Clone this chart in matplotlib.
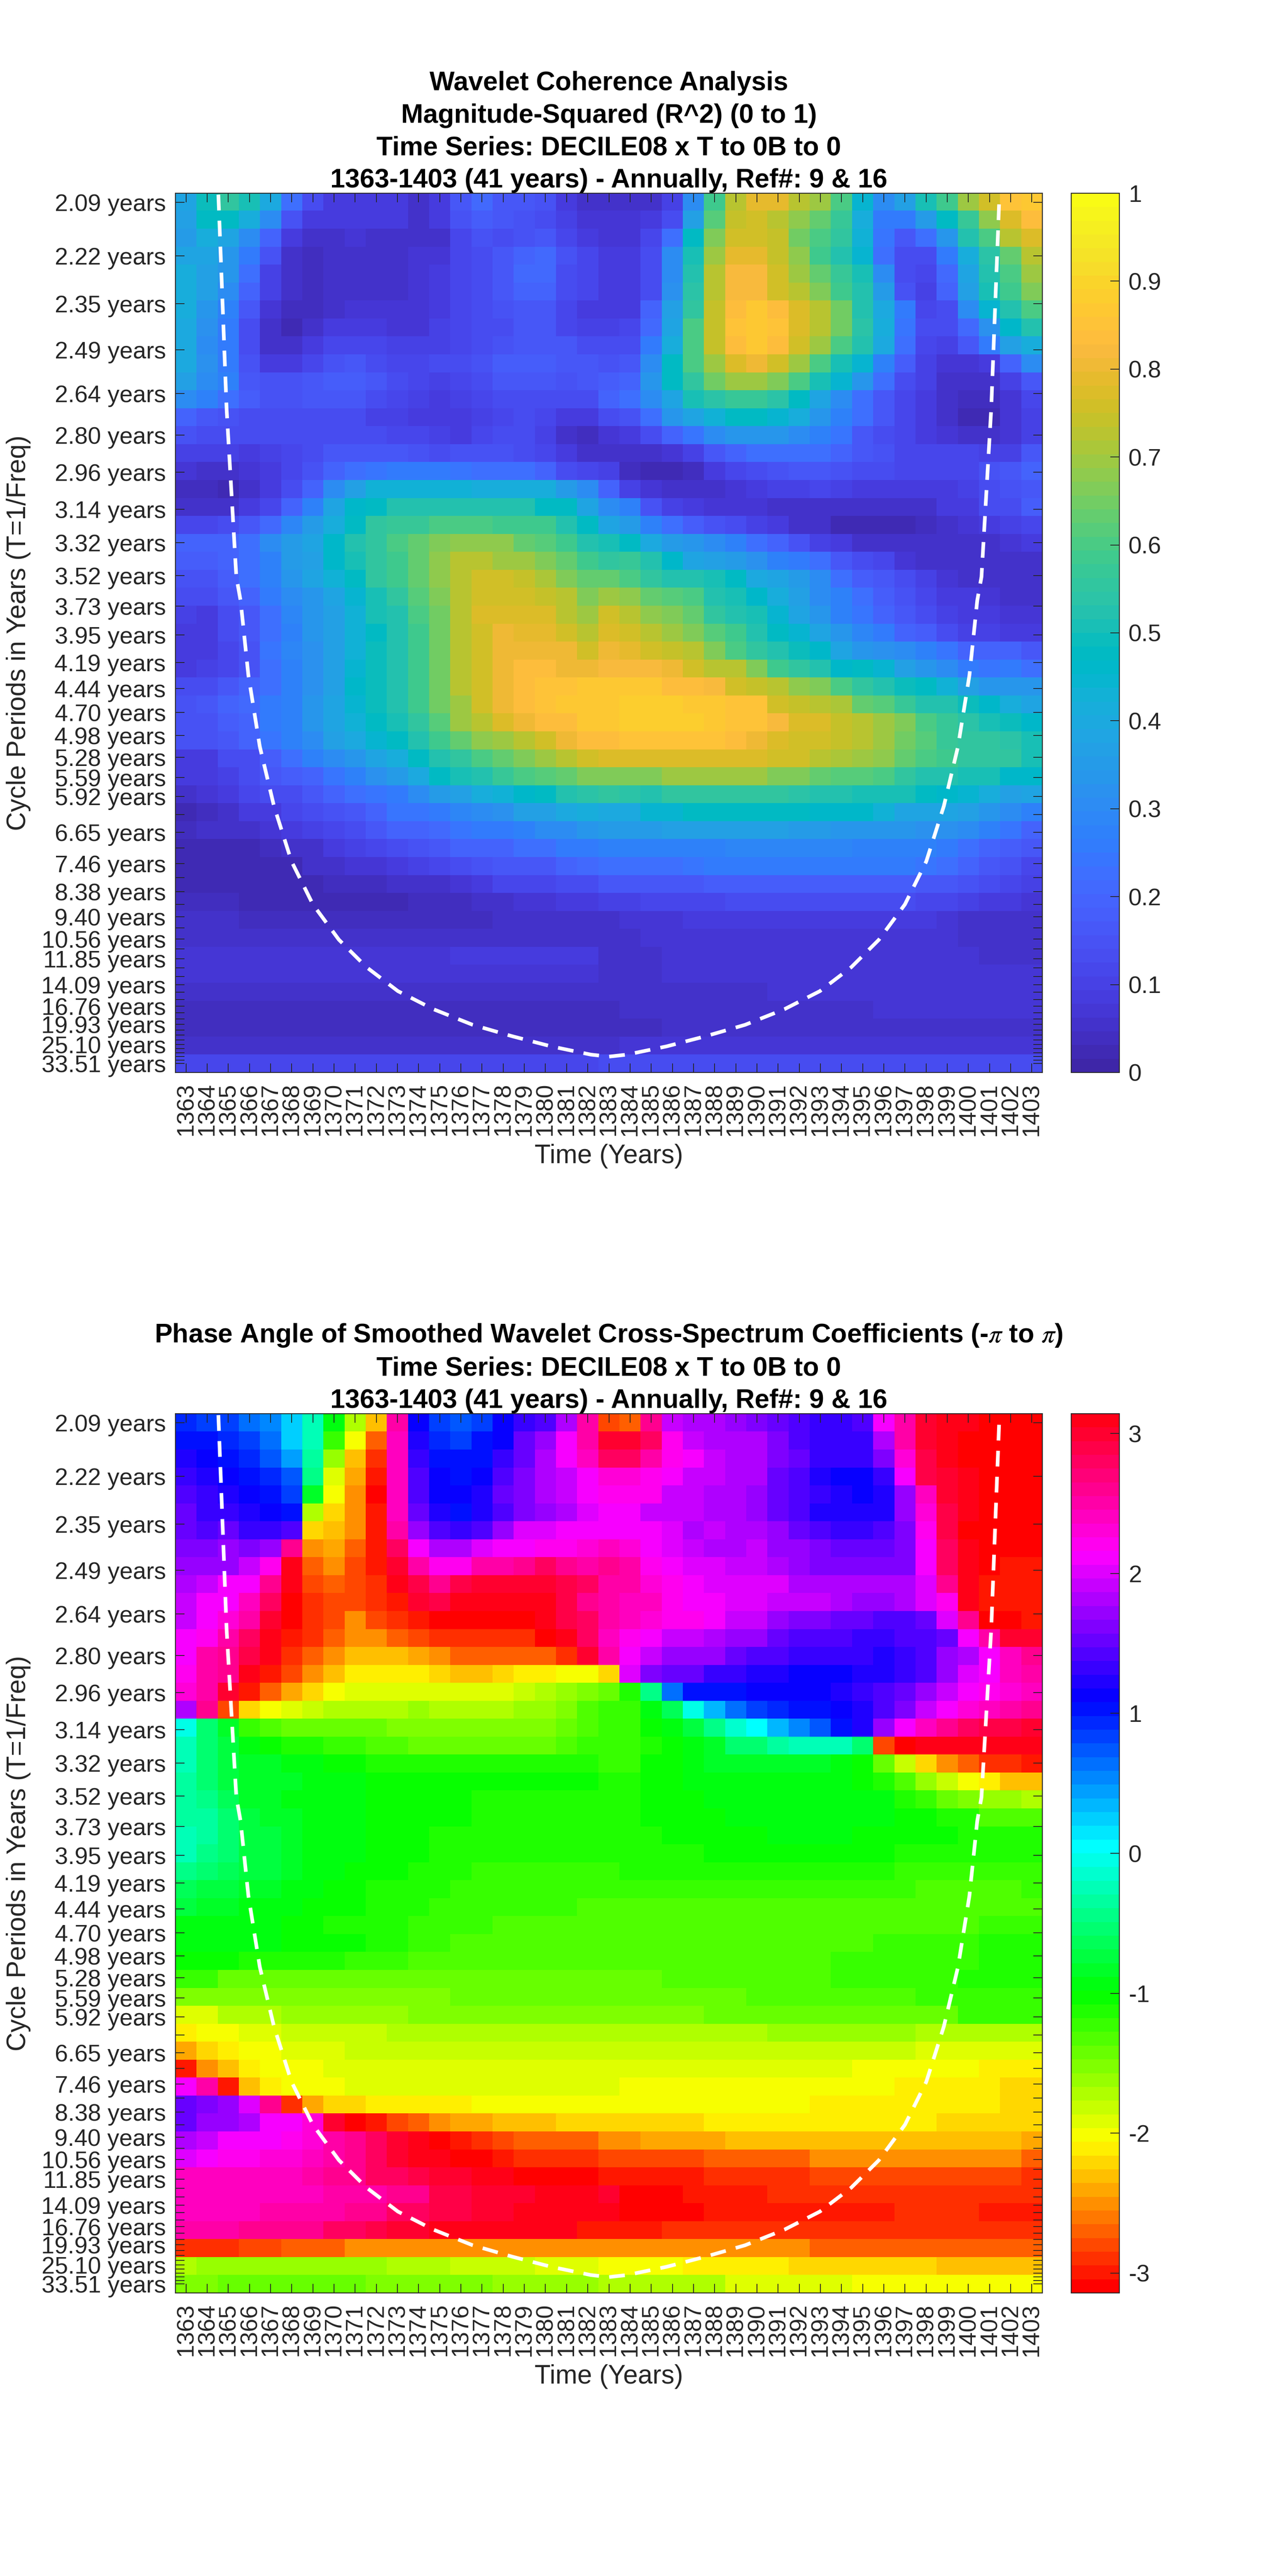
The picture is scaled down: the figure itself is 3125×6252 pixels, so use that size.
import colorsys
import numpy as np
import matplotlib
matplotlib.use("Agg")
import matplotlib.pyplot as plt
from matplotlib.colors import ListedColormap

plt.rcParams['font.family'] = ['Liberation Sans', 'DejaVu Sans']
plt.rcParams['mathtext.fontset'] = 'stix'

YEARS = list(range(1363, 1404))
PERIODS = [2.09, 2.22, 2.35, 2.49, 2.64, 2.80, 2.96, 3.14, 3.32, 3.52, 3.73, 3.95, 4.19, 4.44, 4.70, 4.98,
           5.28, 5.59, 5.92, 6.27, 6.65, 7.04, 7.46, 7.90, 8.38, 8.87, 9.40, 9.96, 10.56, 11.18, 11.85,
           12.55, 13.30, 14.09, 14.92, 15.81, 16.76, 17.76, 18.81, 19.93, 21.12, 22.37, 23.70, 25.10,
           26.60, 28.18, 29.85, 31.63, 33.51]
LABELLED = [2.09, 2.22, 2.35, 2.49, 2.64, 2.80, 2.96, 3.14, 3.32, 3.52, 3.73, 3.95, 4.19, 4.44, 4.70, 4.98,
            5.28, 5.59, 5.92, 6.65, 7.46, 8.38, 9.40, 10.56, 11.85, 14.09, 16.76, 19.93, 25.10, 33.51]

COI_YEARS = [1364.53, 1364.92, 1365.38, 1365.58, 1365.95, 1366.49, 1367.16, 1367.99, 1369.0, 1370.23,
             1371.54, 1373.02, 1374.7, 1376.56, 1378.43, 1380.28, 1382.15, 1383.0, 1383.85, 1385.72,
             1387.57, 1389.44, 1391.3, 1392.98, 1394.46, 1395.77, 1397.0, 1398.01, 1398.84, 1399.51,
             1400.05, 1400.42, 1400.62, 1401.08, 1401.47]
COI_PERIODS = [2.073, 2.698, 3.53, 3.69, 4.31, 5.13, 6.10, 7.40, 8.87, 10.6, 12.5, 14.8, 17.2, 20.0, 22.7,
               25.8, 29.0, 29.9, 29.0, 25.8, 22.7, 20.0, 17.2, 14.8, 12.5, 10.6, 8.87, 7.40, 6.10, 5.13,
               4.31, 3.69, 3.53, 2.698, 2.073]

# Magnitude-squared coherence, in hundredths, top row to bottom row
R2_ROWS = [
 [38,49,55,51,40,22,13,9,9,9,8,5,9,17,21,17,16,15,8,6, 6,5,5,10,30,59,73,79,79,72,69,60,45,30,36,50,59,69,75,85,87],
 [36,47,48,42,30,15,9,8,8,8,8,5,8,15,18,16,15,14,10,7, 7,7,9,14,37,62,74,75,73,68,64,57,42,26,26,35,47,57,68,78,84],
 [35,42,39,30,19,8,5,5,7,5,5,5,6,12,15,14,15,17,11,9, 7,7,11,22,47,66,75,76,74,65,60,55,43,24,16,23,33,52,60,72,77],
 [39,38,34,26,15,6,4,6,5,5,5,7,7,11,13,17,20,21,15,11, 8,9,14,30,50,69,79,79,74,68,59,53,45,23,14,14,25,42,54,64,72],
 [42,37,33,22,10,5,4,5,6,5,5,7,8,11,13,17,21,21,14,12, 9,9,14,30,52,72,82,82,75,70,63,57,50,31,13,11,21,38,52,60,69],
 [42,36,31,20,10,5,4,5,6,5,5,7,8,12,13,17,20,20,14,11, 9,9,14,32,54,72,82,82,76,72,66,58,52,35,15,10,20,36,50,58,66],
 [41,33,28,16,7,4,4,6,7,7,7,7,9,12,13,15,17,17,12,9, 8,9,20,36,56,74,84,86,84,77,72,65,53,40,25,11,13,30,44,52,60],
 [40,32,26,14,6,3,5,8,8,9,7,7,10,12,13,14,16,16,11,10, 10,11,21,39,60,74,85,87,85,78,72,65,54,42,24,14,14,21,32,46,52],
 [40,31,25,14,6,5,8,11,11,11,10,10,10,11,14,15,16,17,16,13, 14,13,26,42,60,74,84,86,84,75,70,60,53,40,22,12,10,16,25,36,42],
 [40,32,26,15,9,8,11,15,16,14,12,12,13,14,15,18,18,18,17,17, 15,17,30,47,60,70,78,80,75,70,60,50,45,28,18,10,7,7,9,20,30],
 [37,30,27,17,15,15,16,18,18,16,14,12,10,11,13,16,16,16,15,17, 18,20,33,47,55,65,70,70,67,60,50,45,33,22,13,10,5,5,5,10,16],
 [30,27,22,18,15,15,16,17,16,13,12,10,9,10,12,14,14,14,13,14, 19,22,30,39,50,54,57,57,54,47,38,30,22,16,12,9,6,4,4,7,12],
 [20,17,15,14,13,14,14,14,13,10,10,9,8,9,10,12,13,12,8,8, 13,15,23,33,38,43,48,48,45,42,34,28,22,17,12,8,6,3,3,7,10],
 [15,14,14,14,13,14,14,14,14,13,12,11,10,9,12,13,13,10,5,4, 7,8,14,20,24,30,34,34,33,30,27,24,17,14,12,9,7,5,5,7,10],
 [10,10,10,9,10,12,13,16,16,16,16,15,14,15,15,15,14,12,8,5, 5,5,5,7,10,16,20,22,22,22,22,20,17,15,12,12,12,12,10,10,16],
 [7,5,5,7,8,12,15,20,23,24,25,25,25,24,22,22,22,20,14,11, 10,4,3,3,4,8,12,14,15,17,17,15,14,13,12,11,11,12,15,17,19],
 [4,4,3,5,8,13,20,30,37,43,43,43,43,43,42,42,41,41,35,30, 20,10,7,5,5,5,7,9,10,10,11,10,8,8,8,8,8,10,13,15,17],
 [5,5,6,9,11,19,28,38,46,48,53,53,53,53,53,52,52,47,47,38, 31,27,15,10,9,7,7,7,6,6,5,5,5,5,5,5,8,8,13,14,18],
 [12,12,13,17,21,29,35,42,47,55,57,57,60,60,60,59,59,58,53,47, 38,35,28,22,18,15,13,10,9,6,5,3,3,3,3,4,5,7,8,10,12],
 [20,20,20,23,30,35,38,46,52,56,60,64,66,68,68,68,64,62,58,53, 50,47,40,35,33,30,27,22,19,15,10,9,5,5,5,5,5,5,6,7,8],
 [18,18,20,23,28,35,37,46,50,55,58,64,68,72,72,70,69,67,63,58, 55,57,52,46,38,37,35,32,28,25,22,17,14,11,7,6,5,5,5,5,6],
 [15,15,18,22,27,33,39,43,48,55,58,64,68,72,75,75,74,71,67,64, 64,60,56,52,52,50,47,40,38,35,30,22,18,16,13,10,7,6,6,5,5],
 [14,14,16,20,25,30,33,39,44,50,55,62,67,72,76,76,75,74,72,66, 70,68,63,61,60,53,51,46,42,36,31,27,23,18,15,12,9,8,7,6,6],
 [10,8,14,17,23,29,33,37,43,50,53,60,65,72,78,78,77,77,73,70, 75,72,68,66,63,56,53,50,45,39,34,27,24,19,16,13,10,8,8,7,7],
 [8,9,13,17,23,28,33,37,43,47,53,58,65,72,76,80,79,79,76,72, 78,76,73,70,66,62,58,53,47,44,39,33,29,25,20,18,13,10,10,9,9],
 [8,9,12,15,24,29,32,37,43,49,53,58,65,72,76,80,80,81,80,76, 80,79,76,74,72,67,60,56,52,49,46,38,34,32,30,27,24,20,19,19,17],
 [9,10,12,15,22,28,32,36,44,49,53,58,65,72,76,80,83,83,81,80, 82,82,82,80,76,72,72,67,58,55,53,46,47,44,36,33,30,26,24,25,22],
 [13,14,17,19,22,27,32,36,46,49,53,58,65,72,76,80,83,85,85,87, 86,86,86,84,84,82,76,74,72,68,66,60,56,52,49,47,43,37,33,33,33],
 [15,16,19,21,25,27,33,38,44,49,53,58,65,70,76,80,83,85,86,87, 87,88,88,88,86,86,85,85,76,74,73,71,64,61,57,53,52,49,46,41,38],
 [15,15,18,20,25,28,34,38,43,47,50,55,62,70,73,77,81,83,84,87, 87,88,88,88,88,86,85,85,82,78,77,74,72,70,66,60,57,54,50,49,46],
 [15,15,17,20,24,28,31,37,40,45,47,52,58,64,68,70,73,75,80,83, 84,85,85,85,85,85,83,80,78,76,75,74,72,70,65,62,57,55,55,54,50],
 [9,9,13,14,18,22,27,30,34,38,42,47,52,56,60,63,67,70,73,76, 78,78,78,78,78,78,78,77,76,75,72,71,70,68,63,60,58,56,55,55,50],
 [8,8,10,13,16,18,20,24,27,32,35,40,47,50,53,57,60,62,64,66, 66,67,67,70,70,70,70,69,67,66,64,62,62,60,55,53,52,50,50,46,46],
 [5,7,8,11,13,13,17,20,22,24,26,31,35,37,41,43,46,47,52,54, 55,54,53,56,56,56,56,56,56,54,53,53,50,50,50,48,46,44,41,37,38],
 [3,4,6,8,9,12,14,15,17,20,24,24,26,29,30,32,36,37,40,41, 40,40,45,45,47,47,47,47,47,47,46,46,46,43,38,38,38,36,33,31,28],
 [4,5,5,6,7,9,10,12,14,16,19,20,21,24,25,26,28,30,31,33, 35,35,35,36,37,36,36,36,36,35,35,33,33,33,33,32,32,30,27,24,20],
 [3,3,3,3,4,5,6,8,10,12,14,15,17,19,20,20,22,22,25,26, 27,27,28,28,28,28,29,29,29,29,29,29,28,28,28,27,25,22,20,18,16],
 [3,3,3,3,3,3,5,6,7,7,9,10,12,14,15,16,17,17,19,21, 22,22,22,23,24,25,25,25,25,25,25,25,25,25,25,24,22,19,17,15,12],
 [3,3,3,3,3,3,3,4,4,4,5,5,6,7,8,11,12,12,13,14, 17,16,16,16,17,18,18,18,18,18,18,18,18,18,18,17,16,15,13,11,10],
 [4,4,4,3,3,3,3,3,3,3,3,4,4,4,5,6,7,7,8,9, 10,10,11,12,12,12,13,14,14,14,14,14,14,13,13,12,11,10,9,8,7],
 [5,5,5,4,4,4,4,4,4,4,4,4,4,4,4,5,5,5,5,6, 6,7,7,7,8,8,8,8,8,8,8,8,8,8,8,8,7,6,6,6,5],
 [6,6,6,6,6,6,6,6,6,5,5,5,5,5,5,5,5,5,5,5, 6,6,7,7,7,7,7,7,7,7,7,7,7,7,7,7,7,6,6,5,5],
 [7]*13+[8]*7+[6,6,6]+[7]*15+[6,6,5],
 [7]*20+[6,6,6]+[7]*18,
 [6]*20+[5,5,6,6,6,6,6,6]+[7]*13,
 [4]*20+[4,5,5,5,5,5,5,6,6,6,6,6,6]+[7]*8,
 [4]*20+[4,4,4]+[5]*18,
 [5]*4+[6]*17+[7]*20,
 [11]*10+[12]*10+[14]*21,
]

# Phase angle, in tenths of a radian, top row to bottom row
PHASE_ROWS = [
 [9,8,8,6,5,2,-3,-10,-18,-24,25,11,8,7,8,11,13,14,18,25, -28,-27,26,19,18,18,17,16,15,14,13,13,14,21,25,29,30,30,-31,-31,-31],
 [10,10,9,8,6,2,-3,-13,-21,-27,24,12,9,8,10,11,15,17,21,25, 29,29,27,22,19,18,18,18,16,14,13,13,13,18,25,29,30,-31,-31,-31,-31],
 [12,11,10,9,7,4,-4,-17,-24,-29,24,13,10,10,10,13,15,18,21,24, 27,27,25,22,21,19,18,18,16,15,13,13,13,16,23,28,30,-31,-31,-31,-31],
 [13,12,11,10,9,7,-5,-20,-25,-30,24,14,11,10,11,14,16,18,19,21, 23,23,22,21,19,19,18,18,15,14,12,11,11,13,21,28,29,30,-31,-31,-31],
 [14,13,12,11,10,8,-9,-21,-26,-31,24,14,11,11,12,15,16,18,19,21, 22,22,22,19,19,18,18,17,15,14,13,12,11,12,17,24,29,30,-31,-31,-31],
 [15,13,13,12,11,10,-18,-23,-26,-30,24,15,12,10,12,14,16,17,18,20, 21,21,19,19,19,18,18,17,15,14,12,12,12,12,17,23,28,30,-31,-31,-31],
 [15,14,15,13,13,14,-23,-24,-26,-30,25,17,14,13,14,17,20,20,21,21, 21,21,21,20,18,19,18,18,17,15,14,13,13,14,16,22,28,-31,-31,-31,-31],
 [16,16,17,16,17,26,-26,-25,-27,-30,27,21,18,18,20,21,21,22,22,23, 24,23,21,20,19,18,18,19,17,17,16,15,15,15,16,21,27,30,-31,-31,-31],
 [17,17,17,19,22,30,-27,-26,-28,-30,29,25,22,22,25,25,26,27,26,25, 26,25,22,21,20,20,19,19,18,17,16,16,16,16,16,21,27,30,-31,-30,-30],
 [18,19,21,21,26,31,-28,-27,-28,-29,31,28,26,28,29,29,29,29,28,27, 25,25,23,22,21,20,20,20,20,18,18,18,18,18,18,20,26,30,-30,-30,-30],
 [19,21,21,24,27,-31,-29,-28,-28,-29,-30,29,28,30,30,30,30,30,28,26, 25,24,24,22,21,21,20,20,19,19,19,18,17,17,18,20,22,30,-30,-30,-30],
 [19,21,23,25,29,-31,-29,-28,-26,-28,-29,-30,-31,-31,-31,-31,-31,30,28,27, 25,24,23,22,22,21,19,19,17,16,16,15,15,14,14,15,20,26,-31,-31,-30],
 [21,22,25,27,30,-30,-29,-27,-26,-26,-27,-28,-29,-29,-29,-29,-29,-31,30,27, 24,22,21,19,19,18,17,17,15,14,14,14,13,13,14,14,15,21,25,29,29],
 [21,25,26,28,31,-29,-27,-26,-24,-24,-24,-25,-26,-27,-27,-27,-27,-27,-29,29, 25,21,19,17,17,17,15,14,14,13,13,13,13,12,13,14,17,18,21,24,26],
 [22,25,26,30,-30,-28,-26,-24,-22,-22,-22,-22,-23,-24,-24,-23,-22,-22,-21,-21, -23,20,16,15,15,13,13,12,12,11,11,11,12,12,13,14,17,20,21,24,25],
 [23,25,29,-30,-27,-25,-23,-21,-20,-20,-20,-20,-20,-20,-20,-20,-19,-18,-17,-16, -15,-12,-5,6,10,10,10,11,11,11,11,12,13,14,15,17,19,21,22,23,24],
 [18,26,-28,-23,-21,-20,-19,-18,-18,-18,-18,-17,-18,-18,-18,-18,-17,-17,-16,-14, -13,-13,-10,-7,-1,3,6,8,9,10,10,11,12,14,16,19,21,23,24,25,26],
 [-1,-6,-9,-13,-14,-15,-15,-15,-15,-15,-16,-16,-16,-16,-16,-16,-16,-16,-15,-14, -13,-13,-11,-10,-8,-5,-2,0,3,5,7,10,12,17,21,24,26,27,28,28,29],
 [-3,-6,-8,-10,-11,-12,-12,-13,-13,-14,-14,-15,-15,-15,-15,-15,-15,-15,-14,-13, -13,-13,-12,-11,-10,-9,-6,-6,-4,-3,-3,-3,-6,-28,-31,30,30,30,30,30,30],
 [-3,-6,-8,-9,-9,-10,-10,-11,-11,-12,-12,-12,-12,-12,-12,-12,-12,-12,-12,-12, -13,-13,-11,-11,-10,-9,-9,-9,-9,-9,-9,-10,-11,-15,-19,-23,-26,-27,-29,-29,-30],
 [-4,-6,-8,-9,-9,-9,-10,-10,-10,-11,-11,-11,-11,-11,-11,-11,-11,-11,-11,-11, -12,-12,-11,-11,-10,-10,-10,-10,-10,-10,-10,-10,-11,-12,-14,-17,-19,-21,-22,-24,-24],
 [-4,-5,-7,-9,-9,-10,-10,-10,-10,-11,-11,-11,-11,-11,-12,-12,-12,-12,-12,-12, -12,-12,-11,-11,-11,-10,-10,-10,-10,-10,-10,-10,-10,-10,-12,-13,-15,-16,-17,-17,-18],
 [-4,-4,-6,-8,-9,-9,-10,-10,-10,-11,-11,-11,-11,-11,-12,-12,-12,-12,-12,-12, -12,-12,-11,-11,-11,-11,-10,-10,-10,-10,-10,-10,-10,-10,-11,-11,-12,-12,-14,-14,-14],
 [-3,-4,-6,-8,-8,-9,-10,-10,-10,-11,-11,-11,-12,-12,-12,-12,-12,-12,-12,-12, -12,-12,-12,-11,-11,-11,-11,-11,-10,-10,-10,-10,-11,-11,-11,-11,-11,-12,-12,-12,-12],
 [-3,-5,-6,-8,-8,-9,-10,-10,-10,-11,-11,-11,-12,-12,-12,-12,-12,-12,-12,-12]+[-12]*5+[-11]*9+[-12]*7,
 [-5,-6,-7,-8,-8,-9,-10,-10,-11,-11,-11,-12,-12,-12,-13,-13,-13,-13,-13,-13,-13]+[-12]*13+[-13]*7,
 [-7,-8,-8,-9,-9,-10,-10,-11,-11,-12,-12,-12,-12,-13,-13,-13,-13,-13,-13,-13]+[-13]*15+[-14]*5+[-13],
 [-8,-9,-9,-10,-10,-10,-11,-11,-11,-12,-12,-12,-13,-13,-13,-13,-13,-13,-13,-14]+[-14]*21,
 [-10,-10,-10,-10,-10,-11,-11,-12,-12,-12,-12,-13,-13,-13,-13,-14,-14,-14,-14,-14]+[-14]*18+[-13]*3,
 [-10,-10,-10,-10,-10,-11,-11,-11,-11,-12,-12,-13,-13,-14,-14,-14,-14,-14,-14,-14]+[-14]*13+[-13]*5+[-12]*3,
 [-11,-11,-11,-12,-12,-12,-12,-12,-13,-13,-13,-14,-14,-14,-14,-14,-14,-14,-14,-14]+[-14]*11+[-13]*7+[-12]*3,
 [-13,-13]+[-15]*18+[-15]*3+[-14]*8+[-13]*6+[-12]*4,
 [-16]*13+[-15]*7+[-15]*7+[-14]*8+[-13]*6,
 [-20]*2+[-18]*3+[-17]*6+[-16]*9+[-16]*5+[-15]*12+[-13]*4,
 [-22,-21,-21,-20,-20]+[-19]*5+[-18]*10+[-18]*8+[-17]*7+[-18]*6,
 [-25,-23,-22,-21,-21,-20,-20,-20]+[-19]*12+[-19]*15+[-20]*6,
 [-30,-26,-24,-22,-21,-21,-21]+[-20]*13+[-20]*12+[-21]*6+[-22]*3,
 [21,25,-30,-24,-22,-21,-21,-21]+[-20]*12+[-20]+[-21]*13+[-22]*5+[-23]*2,
 [15,16,17,20,26,-29,-25,-23,-23,-22,-22,-22,-22,-22]+[-21]*6+[-21]*10+[-22]*9+[-23]*2,
 [15,17,17,18,21,21,23,29,-31,-30,-28,-27,-26,-25,-25,-24,-24,-24,-23,-23]+[-23]*5+[-22]*11+[-23]*5,
 [18,19,21,21,21,22,23,25,26,27,29,30,-31,-30,-29,-28,-27,-27,-27,-27,-26,-26]+[-25]*4+[-24]*14+[-25],
 [20,21,22,22,23,23,24,25,26,27,29,30,30,-31,-31,-30,-29,-29,-29,-29,-28,-28]+[-28]*3+[-27]*5+[-26]*10+[-27],
 [24]*6+[25,26,26,27,27,28,29,29,30,30,-31,-31,-31,-31]+[-30]*5+[-29]*5+[-28]*10+[-29],
 [24]*7+[25]*3+[26,26,28,28,29,29,29,30,30,30,29,-31,-31,-31]+[-30]*4+[-29]*13,
 [24]*4+[25]*4+[26,26,27,27,28,28,29,29,30,30,30,30,30]+[-31]*4+[-30]*9+[-29]*4+[-30]*3,
 [25]*3+[26]*4+[27,27,28,29,29,30,30,30,31,31,31,31,-30]+[-30]*3+[-29]*18,
 [-29,-29,-29,-28,-28]+[-27]*3+[-26]*12+[-26]*10+[-27]*11,
 [-18]+[-17]*9+[-18]*3+[-19]*4+[-20]*3+[-21]*4+[-22]*5+[-23]*7+[-24]*5,
 [-16,-16]+[-15]*7+[-16]*6+[-17]*5+[-18]*6+[-20]*6+[-21]*9,
]

PARULA = [
 (.2422,.1504,.6603),(.2504,.1650,.7076),(.2578,.1818,.7511),(.2647,.1978,.7952),(.2706,.2147,.8364),
 (.2751,.2342,.8710),(.2783,.2559,.8991),(.2803,.2782,.9221),(.2813,.3006,.9414),(.2810,.3228,.9579),
 (.2795,.3447,.9717),(.2760,.3667,.9829),(.2699,.3892,.9906),(.2602,.4123,.9952),(.2440,.4358,.9988),
 (.2206,.4603,.9973),(.1963,.4847,.9892),(.1834,.5074,.9798),(.1786,.5289,.9682),(.1764,.5499,.9520),
 (.1687,.5703,.9359),(.1540,.5902,.9218),(.1460,.6091,.9079),(.1380,.6276,.8973),(.1248,.6459,.8883),
 (.1113,.6635,.8763),(.0952,.6798,.8598),(.0689,.6948,.8394),(.0297,.7082,.8163),(.0036,.7203,.7917),
 (.0067,.7312,.7660),(.0433,.7411,.7394),(.0964,.7500,.7120),(.1408,.7584,.6842),(.1717,.7670,.6554),
 (.1938,.7758,.6251),(.2161,.7843,.5923),(.2470,.7918,.5567),(.2906,.7973,.5188),(.3406,.8008,.4789),
 (.3909,.8029,.4354),(.4456,.8024,.3909),(.5044,.7993,.3480),(.5616,.7942,.3045),(.6174,.7876,.2612),
 (.6720,.7793,.2227),(.7242,.7698,.1910),(.7738,.7598,.1646),(.8203,.7498,.1535),(.8634,.7406,.1596),
 (.9035,.7330,.1774),(.9393,.7288,.2100),(.9728,.7298,.2394),(.9956,.7434,.2371),(.9970,.7659,.2199),
 (.9952,.7861,.1967),(.9892,.8086,.1817),(.9786,.8310,.1655),(.9676,.8639,.1643),(.9610,.8890,.1537),
 (.9597,.9135,.1423),(.9628,.9373,.1265),(.9691,.9606,.1064),(.9769,.9839,.0805),
]
HSV64 = [colorsys.hsv_to_rgb(i / 64, 1, 1) for i in range(64)]

INK = '#262626'
W, H = 3125, 6252
DPI = 400
AX_L, AX_R = 426, 2531
CB_L, CB_R = 2601, 2718
AX_H = 2134

TITLE_1 = ("Wavelet Coherence Analysis\nMagnitude-Squared (R^2) (0 to 1)\n"
           "Time Series: DECILE08 x T to 0B to 0\n1363-1403 (41 years) - Annually, Ref#: 9 & 16")
TITLE_2 = ("Phase Angle of Smoothed Wavelet Cross-Spectrum Coefficients (-$\\pi$ to $\\pi$)\n"
           "Time Series: DECILE08 x T to 0B to 0\n1363-1403 (41 years) - Annually, Ref#: 9 & 16")

fig = plt.figure(figsize=(W / DPI, H / DPI), dpi=DPI, facecolor='white')


def panel(bottom_px, data, vmin, vmax, colors, cticks, cticklabels, title):
    ax = fig.add_axes([AX_L / W, 1 - bottom_px / H, (AX_R - AX_L) / W, AX_H / H])
    cax = fig.add_axes([CB_L / W, 1 - bottom_px / H, (CB_R - CB_L) / W, AX_H / H])
    f_top, f_bot = 1 / PERIODS[0], 1 / PERIODS[-1]
    half = (f_top - f_bot) / (len(PERIODS) - 1) / 2
    im = ax.imshow(data, cmap=ListedColormap(colors), vmin=vmin, vmax=vmax, aspect='auto',
                   interpolation='nearest', origin='upper',
                   extent=[YEARS[0] - .5, YEARS[-1] + .5, f_bot - half, f_top + half])
    ax.plot(COI_YEARS, 1 / np.array(COI_PERIODS), color='white', lw=1.6,
            linestyle=(0, (4.3, 2.8)), dash_capstyle='butt')
    ax.set_xlim(YEARS[0] - .5, YEARS[-1] + .5)
    ax.set_ylim(f_bot - half, f_top + half)

    ax.set_xticks(YEARS)
    ax.set_xticklabels([str(y) for y in YEARS], rotation=90, fontsize=10.4, color=INK)
    ax.set_yticks([1 / p for p in PERIODS])
    ax.set_yticklabels([f"{p:.2f} years" if p in LABELLED else "" for p in PERIODS],
                       fontsize=10.4, color=INK)
    ax.tick_params(axis='x', which='major', direction='in', length=4, width=.36, color=INK,
                   top=True, bottom=True, pad=4.5)
    ax.tick_params(axis='y', which='major', direction='in', length=4, width=.36, color=INK,
                   left=True, right=True, pad=4.2)
    for s in ax.spines.values():
        s.set_linewidth(.4)
        s.set_color(INK)

    ax.set_xlabel("Time (Years)", fontsize=11.5, color=INK, va='center')
    ax.xaxis.set_label_coords(.5, -203 / AX_H)
    ax.set_ylabel("Cycle Periods in Years (T=1/Freq)", fontsize=11.5, color=INK, va='center')
    ax.yaxis.set_label_coords((45 - AX_L) / (AX_R - AX_L), .5)
    ax.set_title(title, fontsize=11.6, fontweight='bold', color='black', pad=2.5, linespacing=1.4)

    cb = fig.colorbar(im, cax=cax)
    cb.set_ticks(cticks)
    cb.set_ticklabels(cticklabels)
    cax.tick_params(direction='in', length=4, width=.36, color=INK, labelcolor=INK,
                    labelsize=10.4, pad=4)
    cb.outline.set_linewidth(.4)
    cb.outline.set_edgecolor(INK)
    return ax


R2 = np.array(R2_ROWS, dtype=float) * 0.01
# half a colour step, so a value read from a cell's hue lands on that hue's own level
PHASE = np.array(PHASE_ROWS, dtype=float) * 0.1 + np.pi / 64

panel(2603, R2, 0, 1, PARULA,
      [0, .1, .2, .3, .4, .5, .6, .7, .8, .9, 1],
      ['0', '0.1', '0.2', '0.3', '0.4', '0.5', '0.6', '0.7', '0.8', '0.9', '1'], TITLE_1)
panel(5565, PHASE, -np.pi, np.pi, HSV64,
      [-3, -2, -1, 0, 1, 2, 3], ['-3', '-2', '-1', '0', '1', '2', '3'], TITLE_2)

fig.savefig('out.png', dpi=DPI, facecolor='white')
